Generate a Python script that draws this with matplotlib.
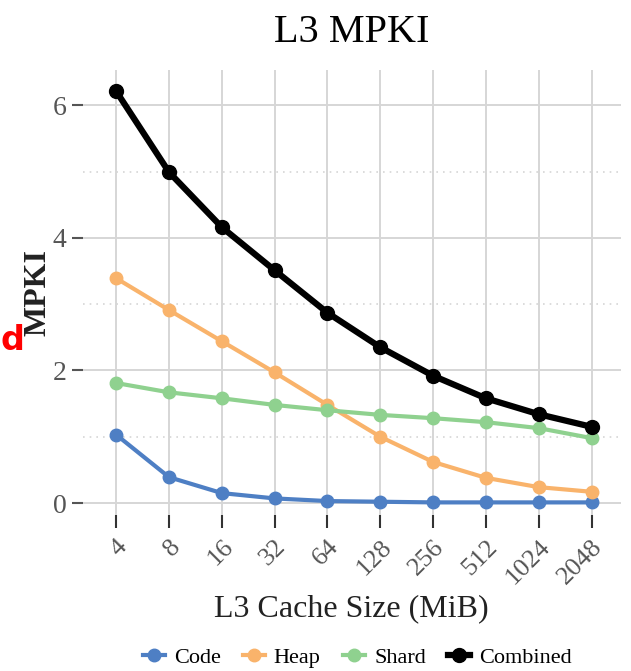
import matplotlib.pyplot as plt
import numpy as np
from matplotlib.ticker import FixedLocator

# cache sizes (MiB)
sizes = ["4", "8", "16", "32", "64", "128", "256", "512", "1024", "2048"]

code = [1.03, 0.39, 0.15, 0.07, 0.03, 0.02, 0.01, 0.01, 0.01, 0.01]
heap = [3.39, 2.91, 2.44, 1.97, 1.48, 1.00, 0.62, 0.38, 0.24, 0.17]
shard = [1.81, 1.67, 1.58, 1.48, 1.40, 1.33, 1.28, 1.22, 1.13, 0.98]
combined = [6.21, 4.99, 4.16, 3.51, 2.87, 2.35, 1.92, 1.58, 1.34, 1.15]

series_names = ["Code", "Heap", "Shard", "Combined"]
colors = ["#4e7fc4", "#f9b36b", "#8fd18f", "#000000"]

plt.rcParams["font.family"] = ["Liberation Serif", "DejaVu Serif"]

fig = plt.figure(figsize=(6.31, 6.71), dpi=100)
ax = fig.add_axes([0.1315, 0.2325, 0.852, 0.663])

x = np.arange(len(sizes))
for vals, name, c in zip([code, heap, shard, combined], series_names, colors):
    if name == "Combined":
        ax.plot(x, vals, "-o", color=c, lw=4.5, ms=10, label=name, zorder=4)
    else:
        ax.plot(x, vals, "-o", color=c, lw=3, ms=9, label=name, zorder=3)

ax.set_xlim(-0.63, 9.55)
ax.set_ylim(-0.18, 6.53)
ax.set_xticks(x)
ax.set_xticklabels(sizes, rotation=45, ha="right", va="top", rotation_mode="anchor")
ax.set_yticks([0, 2, 4, 6])
ax.yaxis.set_minor_locator(FixedLocator([1, 3, 5]))

ax.grid(True, which="major", color="#d6d6d6", lw=1.4)
ax.grid(True, which="minor", axis="y", color="#d6d6d6", lw=1.2, ls=(0, (1, 3)))
ax.set_axisbelow(True)
for s in ax.spines.values():
    s.set_visible(False)

ax.tick_params(axis="y", which="major", length=8, width=1.5, color="#555555",
               labelsize=20, labelcolor="#555555", pad=4)
ax.tick_params(axis="y", which="minor", length=0)
ax.tick_params(axis="x", length=9, width=1.5, color="#333333",
               labelsize=19, labelcolor="#555555", pad=6)

ax.set_title("L3 MPKI", fontsize=29, pad=20)
ax.set_xlabel("L3 Cache Size (MiB)", fontsize=23, color="#222222", labelpad=4)
ax.set_ylabel("MPKI", fontsize=23, fontweight="bold", color="#222222")
ax.yaxis.set_label_coords(-0.056, 0.5)

fig.text(12 / 631, 1 - 340 / 671, "d", color="red", fontsize=24, fontweight="bold",
         family="DejaVu Sans", ha="center", va="center")

ax.legend(loc="center", bbox_to_anchor=(0.51, -0.32), ncol=4, frameon=False,
          fontsize=16, handlelength=1.0, handletextpad=0.4, columnspacing=1.0)

fig.savefig("out.png", dpi=100)
